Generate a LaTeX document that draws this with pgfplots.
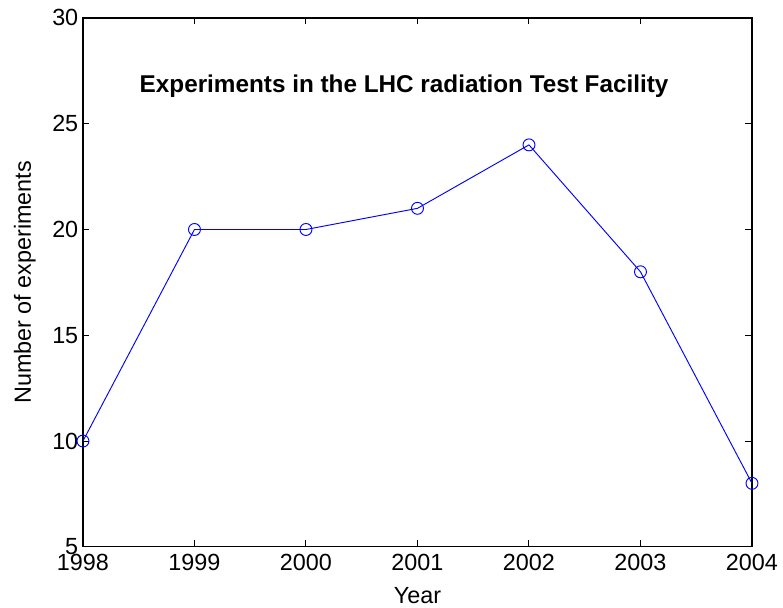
\documentclass[border=0pt]{standalone}
\usepackage{fontspec}
\setmainfont{Liberation Sans}
\usepackage{pgfplots}
\pgfplotsset{compat=1.18}
\begin{document}
\begin{tikzpicture}[x=1pt,y=1pt]
\begin{axis}[
  scale only axis,
  width=358pt, height=283pt,
  xmin=1998, xmax=2004, ymin=5, ymax=30,
  xtick={1998,...,2004}, ytick={5,10,...,30},
  xticklabel style={/pgf/number format/1000 sep={}, yshift=-0.5pt},
  /pgf/number format/assume math mode=true,
  tick align=inside, major tick length=3.5pt,
  tick style={black, line width=0.5pt},
  axis line style={black, line width=0.6pt},
  ticklabel style={font=\fontsize{12.5}{14}\selectfont},
  yticklabel style={xshift=1pt},
  xlabel={Year}, ylabel={Number of experiments},
  label style={font=\fontsize{12.5}{14}\selectfont},
  xlabel style={yshift=-2pt},
  ylabel style={yshift=2pt},
  clip=false,
]
\addplot[color={rgb,255:red,0;green,0;blue,255}, line width=0.5pt, mark=o, mark size=3.2pt] coordinates {
(1998,10) (1999,20) (2000,20) (2001,21) (2002,24) (2003,18) (2004,8)
};
\node[font=\bfseries\fontsize{13}{15}\selectfont] at (rel axis cs:0.48,0.871) {Experiments in the LHC radiation Test Facility};
\end{axis}
\pgfresetboundingbox
\path[use as bounding box] (-44.4pt,-32.6pt) rectangle (358pt+16.6pt,283pt+9.6pt);
\end{tikzpicture}
\end{document}
